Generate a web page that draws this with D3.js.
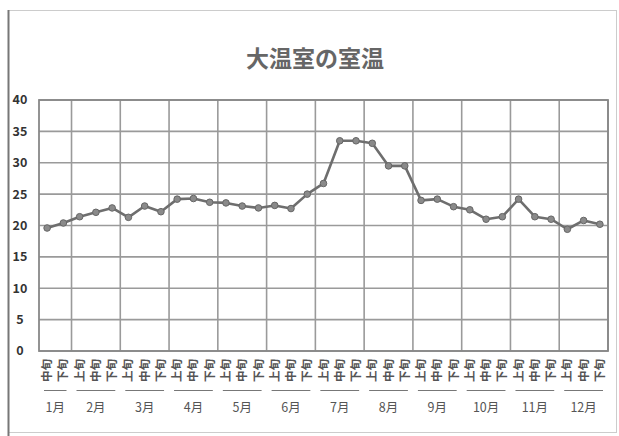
<!DOCTYPE html>
<html>
<head>
<meta charset="utf-8">
<script src="https://cdn.jsdelivr.net/npm/d3@7"></script>
<style>
  body { margin: 0; background: #fff; }
  text { font-family: "Noto Sans CJK JP", "Noto Sans", sans-serif; }
</style>
</head>
<body>
<div id="chart-area"></div>
<script>
// data
let months = ["1月","2月","3月","4月","5月","6月","7月","8月","9月","10月","11月","12月"];
// 1月 starts at 中旬
let catMonth = ["1月","1月",
  "2月","2月","2月","3月","3月","3月","4月","4月","4月","5月","5月","5月",
  "6月","6月","6月","7月","7月","7月","8月","8月","8月","9月","9月","9月",
  "10月","10月","10月","11月","11月","11月","12月","12月","12月"];
let catPeriod = ["中旬","下旬",
  "上旬","中旬","下旬","上旬","中旬","下旬","上旬","中旬","下旬","上旬","中旬","下旬",
  "上旬","中旬","下旬","上旬","中旬","下旬","上旬","中旬","下旬","上旬","中旬","下旬",
  "上旬","中旬","下旬","上旬","中旬","下旬","上旬","中旬","下旬"];
let temps = [19.6, 20.4, 21.4, 22.1, 22.8, 21.3, 23.1, 22.2, 24.2, 24.3, 23.7, 23.6,
  23.1, 22.8, 23.2, 22.7, 25.0, 26.7, 33.5, 33.5, 33.1, 29.5, 29.5, 24.0, 24.2,
  23.0, 22.5, 21.0, 21.4, 24.2, 21.4, 21.0, 19.4, 20.8, 20.2];
let yTicks = [0, 5, 10, 15, 20, 25, 30, 35, 40];

let width = 619, height = 436;
let plotLeft = 39, plotRight = 608, plotTop = 100, plotBottom = 351;

let data = temps.map((t, i) => ({ i: i, month: catMonth[i], period: catPeriod[i], temp: t }));

let svg = d3.select("#chart-area")
  .append("svg")
  .attr("width", width)
  .attr("height", height);

// chart frame
svg.append("rect")
  .attr("x", 8.5).attr("y", 10.5)
  .attr("width", 608).attr("height", 422)
  .attr("fill", "#fff")
  .attr("stroke", "#ccc");
svg.append("line")
  .attr("x1", 8.5).attr("x2", 8.5).attr("y1", 10).attr("y2", 436)
  .attr("stroke", "#777").attr("stroke-width", 2);

let xScale = d3.scaleBand()
  .domain(data.map(d => d.i))
  .range([plotLeft, plotRight])
  .padding(0);

let yScale = d3.scaleLinear()
  .domain([0, 40])
  .range([plotBottom, plotTop]);

// horizontal grid
svg.append("g")
  .selectAll("line")
  .data(yTicks)
  .enter()
  .append("line")
  .attr("x1", plotLeft).attr("x2", plotRight)
  .attr("y1", d => yScale(d)).attr("y2", d => yScale(d))
  .attr("stroke", "#9a9a9a")
  .attr("stroke-width", 1.6);

// month groups
let groups = months.map(m => {
  let idx = data.filter(d => d.month == m).map(d => d.i);
  return { month: m, x0: xScale(idx[0]), x1: xScale(idx[idx.length - 1]) + xScale.bandwidth() };
});

// vertical grid at month boundaries
svg.append("g")
  .selectAll("line")
  .data(groups)
  .enter()
  .append("line")
  .attr("x1", d => d.x1).attr("x2", d => d.x1)
  .attr("y1", plotTop).attr("y2", plotBottom)
  .attr("stroke", "#9a9a9a")
  .attr("stroke-width", 1.6);

// plot border
svg.append("rect")
  .attr("x", plotLeft).attr("y", plotTop)
  .attr("width", plotRight - plotLeft).attr("height", plotBottom - plotTop)
  .attr("fill", "none")
  .attr("stroke", "#888")
  .attr("stroke-width", 1.8);

// y axis labels
svg.append("g")
  .selectAll("text")
  .data(yTicks)
  .enter()
  .append("text")
  .attr("x", 20)
  .attr("y", d => yScale(d))
  .attr("dy", "0.35em")
  .attr("text-anchor", "middle")
  .attr("font-size", 12.5)
  .attr("font-weight", "bold")
  .attr("fill", "#333")
  .text(d => d);

// line + markers
let line = d3.line()
  .x(d => xScale(d.i) + xScale.bandwidth() / 2)
  .y(d => yScale(d.temp));

svg.append("path")
  .datum(data)
  .attr("d", line)
  .attr("fill", "none")
  .attr("stroke", "#6e6e6e")
  .attr("stroke-width", 2.6)
  .attr("stroke-linejoin", "round");

svg.selectAll("circle")
  .data(data)
  .enter()
  .append("circle")
  .attr("r", 3.3)
  .attr("cx", d => xScale(d.i) + xScale.bandwidth() / 2)
  .attr("cy", d => yScale(d.temp))
  .attr("fill", "#8a8a8a")
  .attr("stroke", "#666")
  .attr("stroke-width", 1);

// period labels (rotated)
svg.append("g")
  .selectAll("text")
  .data(data)
  .enter()
  .append("text")
  .attr("transform", d => "translate(" + (xScale(d.i) + xScale.bandwidth() / 2) + "," + 359 + ") rotate(-90)")
  .attr("dy", "0.35em")
  .attr("text-anchor", "end")
  .attr("font-size", 11.5)
  .attr("font-weight", "bold")
  .attr("fill", "#555")
  .text(d => d.period);

// group separator lines
svg.append("g")
  .selectAll("line")
  .data(groups)
  .enter()
  .append("line")
  .attr("x1", d => d.x0 + 5).attr("x2", d => d.x1 - 5)
  .attr("y1", 390.5).attr("y2", 390.5)
  .attr("stroke", "#777")
  .attr("stroke-width", 1);

// month labels
svg.append("g")
  .selectAll("text")
  .data(groups)
  .enter()
  .append("text")
  .attr("x", d => (d.x0 + d.x1) / 2)
  .attr("y", 408)
  .attr("dy", "0.35em")
  .attr("text-anchor", "middle")
  .attr("font-size", 12.5)
  .attr("fill", "#555")
  .text(d => d.month);

// title
svg.append("text")
  .attr("x", 315)
  .attr("y", 59)
  .attr("dy", "0.35em")
  .attr("text-anchor", "middle")
  .attr("font-size", 23)
  .attr("font-weight", "bold")
  .attr("fill", "#666")
  .text("大温室の室温");
</script>
</body>
</html>
